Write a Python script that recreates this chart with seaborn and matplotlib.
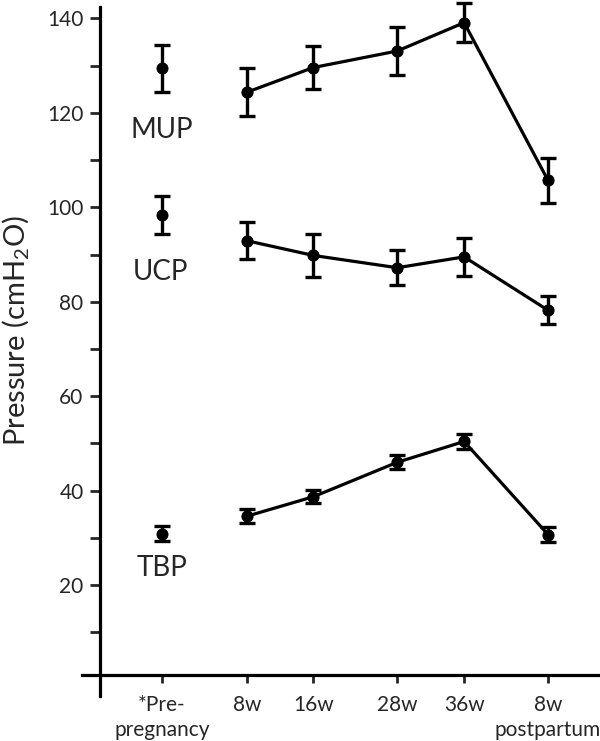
# pressure profiles across pregnancy (MUP / UCP / TBP)

import pandas as pd
import matplotlib.pyplot as plt
import numpy as np
import seaborn as sns

# stages on the x axis (positions, roughly in weeks)
stage_labels = ['*Pre-\npregnancy', '8w', '16w', '28w', '36w', '8w\npostpartum']
stage_x = [-4, 7.5, 16.4, 27.7, 36.7, 48]

# mean +/- error per measure
mup_mean = [129.4, 124.4, 129.6, 133.1, 139.1, 105.7]
mup_err = [4.9, 5.0, 4.5, 5.0, 4.2, 4.8]
ucp_mean = [98.4, 92.9, 89.8, 87.2, 89.5, 78.2]
ucp_err = [4.0, 3.9, 4.5, 3.7, 4.0, 3.0]
tbp_mean = [30.9, 34.6, 38.7, 46.0, 50.4, 30.7]
tbp_err = [1.6, 1.5, 1.4, 1.5, 1.5, 1.5]

series_names = ['MUP', 'UCP', 'TBP']
label_pos = [(-4, 116.3), (-4.2, 86.2), (-4, 23.6)]

rows = []
for name, means, errs in zip(series_names, [mup_mean, ucp_mean, tbp_mean], [mup_err, ucp_err, tbp_err]):
    for i in range(len(stage_x)):
        rows.append({'series': name, 'stage': i, 'x': stage_x[i], 'mean': means[i], 'err': errs[i]})
df = pd.DataFrame(rows)

sns.set_style('white')
plt.rcParams['font.family'] = ['Lato', 'DejaVu Sans']
plt.rcParams['mathtext.default'] = 'regular'

fig = plt.figure(figsize=(6, 7.41), dpi=100)
ax = fig.add_axes([81.7 / 600, 45 / 741, 518.3 / 600, 696 / 741])

for name in series_names:
    sub = df[df['series'] == name]
    joined = sub[sub['stage'] > 0]
    sns.lineplot(data=joined, x='x', y='mean', color='black', linewidth=2.3,
                 marker='o', markersize=8, markeredgecolor='black', ax=ax)
    ax.errorbar(sub['x'], sub['mean'], yerr=sub['err'], fmt='none', ecolor='black',
                elinewidth=2.4, capsize=6, capthick=2.4, clip_on=False)

pre = df[df['stage'] == 0]
sns.scatterplot(data=pre, x='x', y='mean', color='black', s=64, edgecolor='black', ax=ax, zorder=3)

for name, (lx, ly) in zip(series_names, label_pos):
    ax.text(lx, ly, name, ha='center', va='center', fontsize=20)

ax.set_xlim(-14.8, 55)
ax.set_ylim(-3.5, 143.9)

ax.spines['top'].set_visible(False)
ax.spines['right'].set_visible(False)
ax.spines['left'].set_position(('data', -12.3))
ax.spines['bottom'].set_position(('data', 0.9))
ax.spines['left'].set_bounds(-3.5, 142.4)
for s in ['left', 'bottom']:
    ax.spines[s].set_linewidth(2.3)
    ax.spines[s].set_color('black')

ax.set_yticks(np.arange(20, 141, 20))
ax.set_yticks(np.arange(10, 131, 20), minor=True)
ax.tick_params(axis='y', which='both', direction='out', length=7, width=2, labelsize=15, pad=5, left=True)
ax.set_xticks(stage_x, stage_labels)
ax.tick_params(axis='x', direction='out', length=6, width=2, labelsize=15, pad=8, bottom=True)
for t in ax.get_xticklabels():
    t.set_linespacing(1.35)

ax.set_xlabel('')
ax.set_ylabel('Pressure (cmH$_2$O)', fontsize=21)
ax.yaxis.set_label_coords(-0.097, 0.525)

plt.savefig('out.png', dpi=100)
